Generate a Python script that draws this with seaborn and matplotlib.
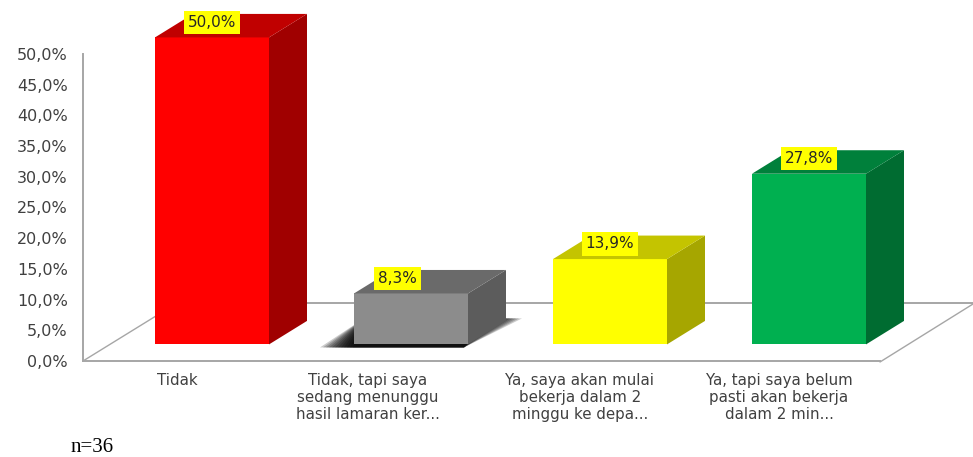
import matplotlib
matplotlib.use("Agg")
import matplotlib.pyplot as plt
from matplotlib.patches import Polygon
import seaborn as sns

# ── DATA ──────────────────────────────────────────────
categories = ["Tidak",
              "Tidak, tapi saya\nsedang menunggu\nhasil lamaran ker...",
              "Ya, saya akan mulai\nbekerja dalam 2\nminggu ke depa...",
              "Ya, tapi saya belum\npasti akan bekerja\ndalam 2 min..."]
values = [50.0, 8.3, 13.9, 27.8]
value_labels = ["50,0%", "8,3%", "13,9%", "27,8%"]
front_colors = ["#FF0000", "#8C8C8C", "#FFFF00", "#00B050"]
top_colors = ["#C00000", "#6A6A6A", "#C4C400", "#00803B"]
side_colors = ["#A00000", "#5C5C5C", "#A6A600", "#006C31"]
y_ticks = [0, 5, 10, 15, 20, 25, 30, 35, 40, 45, 50]
y_tick_labels = ["0,0%", "5,0%", "10,0%", "15,0%", "20,0%", "25,0%",
                 "30,0%", "35,0%", "40,0%", "45,0%", "50,0%"]

# ── LAYOUT (pixels of the 973x457 picture) ────────────
W, H = 973, 457
AX_LEFT, AX_BASE = 83, 361
PX_PER_CAT, PX_PER_PCT = 199, 6.14
CENTER0 = 212
DEPTH_X, DEPTH_Y = 38, 23.5
GREY = "#A6A6A6"
TEXT = "#404040"


def px_x(px):
    return (px - CENTER0) / PX_PER_CAT


def px_y(py):
    return (AX_BASE - py) / PX_PER_PCT


sns.set_theme(style="white")
plt.rcParams["font.family"] = ["DejaVu Sans"]

fig = plt.figure(figsize=(W / 100, H / 100), dpi=100)
ax = fig.add_axes([AX_LEFT / W, 1 - AX_BASE / H, 1 - AX_LEFT / W, AX_BASE / H])
ax.patch.set_alpha(0)

sns.barplot(x=categories, y=values, hue=categories, palette=front_colors,
            legend=False, width=114 / PX_PER_CAT, bottom=2.7, saturation=1,
            linewidth=0, zorder=4, ax=ax)

ax.set_xlim(px_x(AX_LEFT), px_x(W))
ax.set_ylim(0, AX_BASE / PX_PER_PCT)

# floor of the 3D box
floor = [[(AX_LEFT, 361), (177, 303), 1.0], [(177, 303), (W, 303), 1.4], [(880, 362), (W, 304), 1.0]]
for (x0, y0), (x1, y1), lw in floor:
    ax.plot([px_x(x0), px_x(x1)], [px_y(y0), px_y(y1)], color=GREY, lw=lw,
            zorder=1, clip_on=False)

dx = DEPTH_X / PX_PER_CAT
dy = DEPTH_Y / PX_PER_PCT
for i, bar in enumerate(ax.patches):
    x0, x1 = bar.get_x(), bar.get_x() + bar.get_width()
    y0, y1 = bar.get_y(), bar.get_y() + bar.get_height()
    ax.add_patch(Polygon([(x1, y0), (x1 + dx, y0 + dy), (x1 + dx, y1 + dy), (x1, y1)],
                         color=side_colors[i], lw=0, zorder=4))
    ax.add_patch(Polygon([(x0, y1), (x0 + dx, y1 + dy), (x1 + dx, y1 + dy), (x1, y1)],
                         color=top_colors[i], lw=0, zorder=4))

# soft shadow under the grey bar, built from stacked translucent shapes
bar = ax.patches[1]
x0, x1 = bar.get_x(), bar.get_x() + bar.get_width()
base = bar.get_y()
for s in range(0, 36, 3):
    shadow = [(x0 - (34 - s) / PX_PER_CAT, base - 3 / PX_PER_PCT),
              (x1 - 4 / PX_PER_CAT, base - 3 / PX_PER_PCT),
              (x1 + (54 - s) / PX_PER_CAT, base + 26 / PX_PER_PCT),
              (x0 + 10 / PX_PER_CAT, base + 26 / PX_PER_PCT)]
    ax.add_patch(Polygon(shadow, color="black", alpha=0.2, lw=0, zorder=3))

# value labels, one container per hue level
labels = []
for container, text in zip(ax.containers, value_labels):
    labels += list(ax.bar_label(container, labels=[text], fontsize=11, color="#262626",
                                padding=5.5, zorder=6,
                                bbox=dict(facecolor="#FFFF00", edgecolor="none", pad=3.0)))
# the grey bar's label sits left of its centre
lx, ly = labels[1].xyann
labels[1].xyann = (lx - 9.5, ly)

# axes
for side in ["top", "right"]:
    ax.spines[side].set_visible(False)
for side in ["left", "bottom"]:
    ax.spines[side].set_color(GREY)
    ax.spines[side].set_linewidth(1.4)
ax.spines["left"].set_bounds(0, 50)
ax.spines["bottom"].set_bounds(px_x(AX_LEFT), px_x(880))

ax.set_yticks(y_ticks, y_tick_labels)
ax.set_xticks([px_x(p) for p in (177, 368, 580, 779)], categories)
ax.tick_params(axis="y", length=0, pad=11, labelsize=11.5, labelcolor=TEXT)
ax.tick_params(axis="x", length=0, pad=8.8, labelsize=10.8, labelcolor=TEXT)
for t in ax.get_xticklabels():
    t.set_linespacing(1.16)

fig.text(71 / W, 1 - 452 / H, "n=36", family="Liberation Serif", fontsize=15,
         color="black", va="baseline")

fig.savefig("out.png", dpi=100)
